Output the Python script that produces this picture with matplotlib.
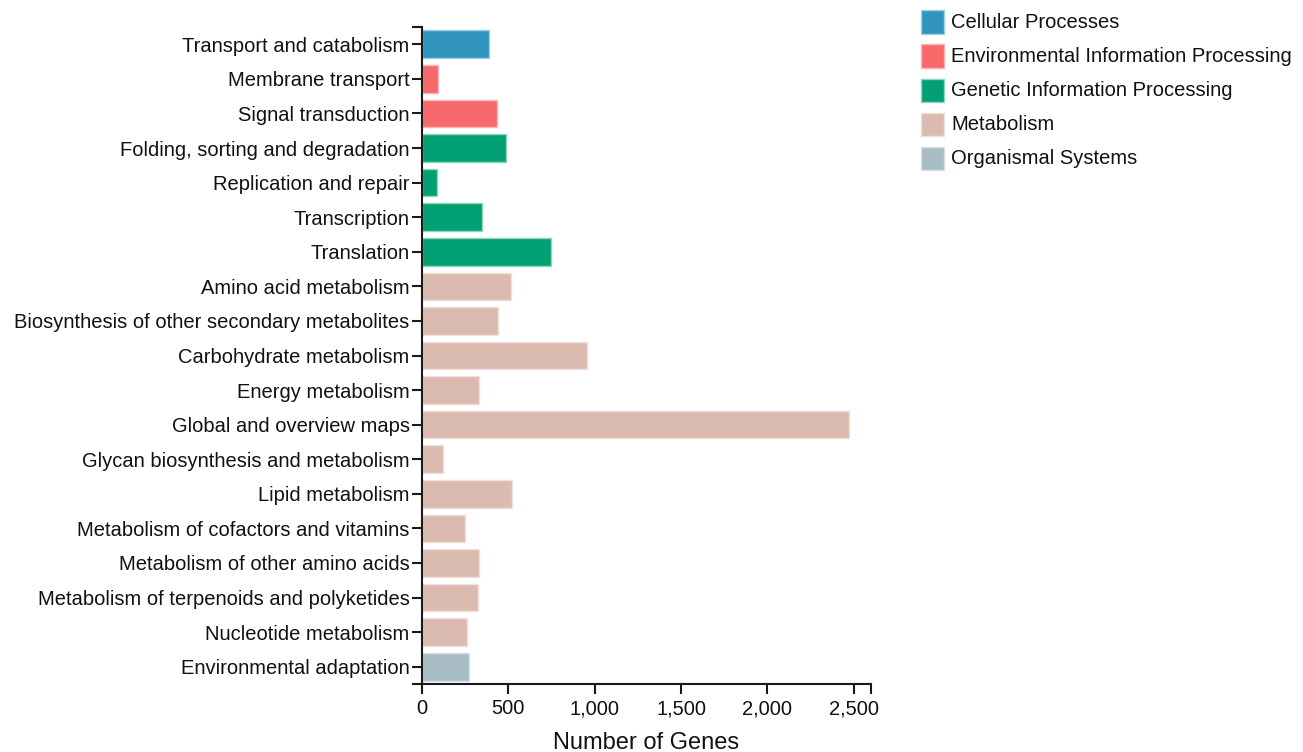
import matplotlib
matplotlib.use("Agg")
import matplotlib.pyplot as plt
from matplotlib.patches import Rectangle
from matplotlib.ticker import FuncFormatter

plt.rcParams['font.family'] = ['Liberation Sans', 'DejaVu Sans']

pathways = [
    "Transport and catabolism", "Membrane transport", "Signal transduction",
    "Folding, sorting and degradation", "Replication and repair", "Transcription",
    "Translation", "Amino acid metabolism", "Biosynthesis of other secondary metabolites",
    "Carbohydrate metabolism", "Energy metabolism", "Global and overview maps",
    "Glycan biosynthesis and metabolism", "Lipid metabolism",
    "Metabolism of cofactors and vitamins", "Metabolism of other amino acids",
    "Metabolism of terpenoids and polyketides", "Nucleotide metabolism",
    "Environmental adaptation",
]
gene_counts = [388, 91, 434, 488, 85, 347, 745, 513, 440, 957, 330, 2475, 122, 521,
               249, 328, 326, 260, 272]
groups = ["Cellular Processes", "Environmental Information Processing",
          "Environmental Information Processing",
          "Genetic Information Processing", "Genetic Information Processing",
          "Genetic Information Processing", "Genetic Information Processing",
          "Metabolism", "Metabolism", "Metabolism", "Metabolism", "Metabolism",
          "Metabolism", "Metabolism", "Metabolism", "Metabolism", "Metabolism",
          "Metabolism", "Organismal Systems"]
group_names = ["Cellular Processes", "Environmental Information Processing",
               "Genetic Information Processing", "Metabolism", "Organismal Systems"]
group_colors = ["#3194BE", "#F8696B", "#00A072", "#DBBAAF", "#A7BDC3"]
edge_colors = ["#9FD0E6", "#FBB5B6", "#8FD6BC", "#F0E0DA", "#D6E1E4"]
x_ticks = [0, 500, 1000, 1500, 2000, 2500]

cmap = dict(zip(group_names, group_colors))
emap = dict(zip(group_names, edge_colors))

W, H = 1303, 752
fig = plt.figure(figsize=(W / 100, H / 100), dpi=100)
ax = fig.add_axes([422 / W, 1 - 684 / H, (871 - 422) / W, (684 - 27) / H])

ypos = list(range(len(pathways)))
ax.barh(ypos, gene_counts, height=0.8,
        color=[cmap[g] for g in groups],
        edgecolor=[emap[g] for g in groups], linewidth=1.0)

ax.set_xlim(0, 2600)
ax.set_ylim(len(pathways) - 0.5, -0.5)
ax.set_yticks(ypos)
ax.set_yticklabels(pathways)
ax.set_xticks(x_ticks)
ax.xaxis.set_major_formatter(FuncFormatter(lambda v, p: f"{int(v):,}"))
ax.set_xticks([2600], minor=True)
ax.set_yticks([-0.5, len(pathways) - 0.5], minor=True)

for s in ["top", "right"]:
    ax.spines[s].set_visible(False)
for s in ["left", "bottom"]:
    ax.spines[s].set_linewidth(1.5)
    ax.spines[s].set_color("#1a1a1a")

ax.tick_params(axis="both", which="both", length=7, width=1.5, color="#1a1a1a",
               labelsize=14.5, labelcolor="#111111", pad=2)
ax.tick_params(axis="x", pad=4)
ax.set_xlabel("Number of Genes", fontsize=17, labelpad=10, color="#111111")

# legend
for i, (name, col, ec) in enumerate(zip(group_names, group_colors, edge_colors)):
    yc = 22 + 34 * i
    fig.add_artist(Rectangle((921 / W, 1 - (yc + 11.5) / H), 23 / W, 23 / H,
                             transform=fig.transFigure, facecolor=col,
                             edgecolor=ec, linewidth=1.0))
    fig.text(951 / W, 1 - (yc + 1) / H, name, fontsize=14.5, va="center", ha="left",
             color="#111111")

fig.savefig("out.png", dpi=100)
